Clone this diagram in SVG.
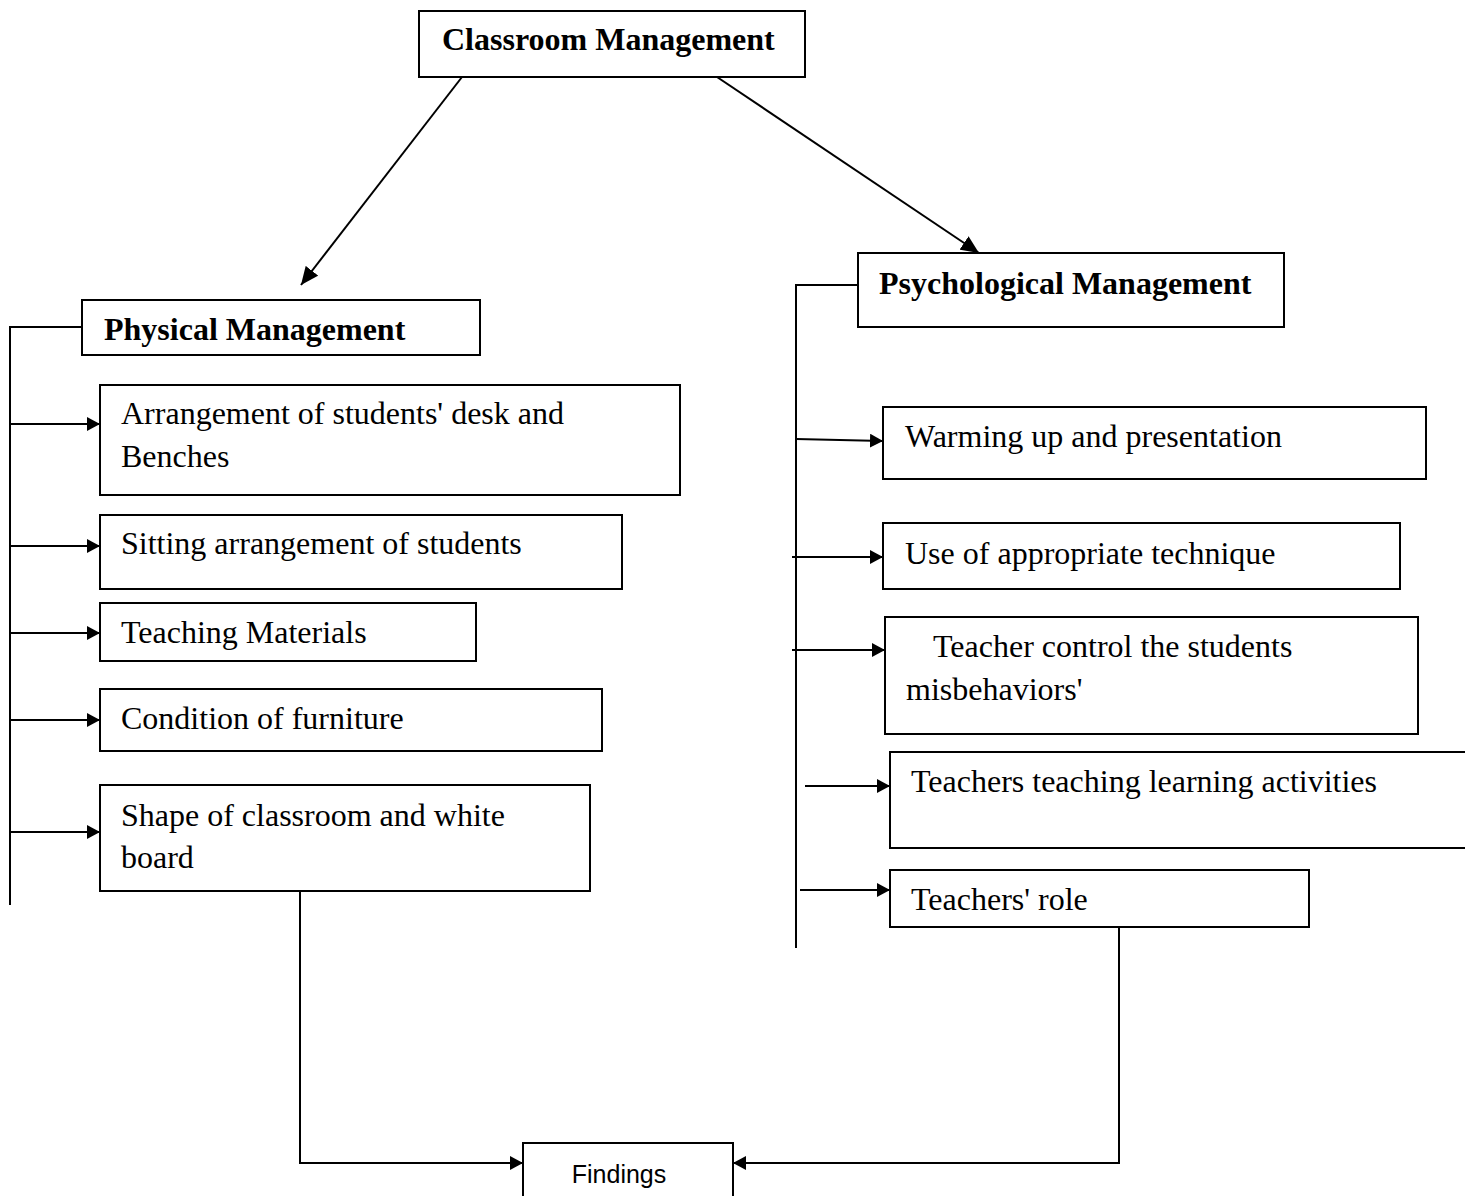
<svg xmlns="http://www.w3.org/2000/svg" width="1465" height="1196" viewBox="0 0 1465 1196">
<style>
.box{fill:#fff;stroke:#000;stroke-width:2}
.ln{fill:none;stroke:#000;stroke-width:2}
.t{font-family:"Liberation Serif","Times New Roman",serif;font-size:32px;fill:#000}
.b{font-weight:bold}
.s{font-family:"Liberation Sans",Arial,sans-serif;font-size:25px;fill:#000}
</style>
<defs>
<marker id="ah" viewBox="0 0 13 14" refX="13" refY="7" markerWidth="13" markerHeight="14" markerUnits="userSpaceOnUse" orient="auto">
<path d="M0,0 L13,7 L0,14 z" fill="#000"/>
</marker>
<marker id="ahb" viewBox="0 0 18 16" refX="18" refY="8" markerWidth="18" markerHeight="16" markerUnits="userSpaceOnUse" orient="auto">
<path d="M0,0 L18,8 L0,16 z" fill="#000"/>
</marker>
</defs>
<rect width="1465" height="1196" fill="#fff"/>
<g id="connectors">
<line class="ln" x1="462" y1="77" x2="301" y2="285" marker-end="url(#ahb)"/>
<line class="ln" x1="717" y1="77" x2="979" y2="253" marker-end="url(#ahb)"/>
<polyline class="ln" points="82,327 10,327 10,905"/>
<line class="ln" x1="10" y1="424" x2="100" y2="424" marker-end="url(#ah)"/>
<line class="ln" x1="10" y1="546" x2="100" y2="546" marker-end="url(#ah)"/>
<line class="ln" x1="10" y1="633" x2="100" y2="633" marker-end="url(#ah)"/>
<line class="ln" x1="10" y1="720" x2="100" y2="720" marker-end="url(#ah)"/>
<line class="ln" x1="10" y1="832" x2="100" y2="832" marker-end="url(#ah)"/>
<polyline class="ln" points="858,285 796,285 796,948"/>
<line class="ln" x1="796" y1="439" x2="883" y2="441" marker-end="url(#ah)"/>
<line class="ln" x1="792" y1="557" x2="883" y2="557" marker-end="url(#ah)"/>
<line class="ln" x1="792" y1="650" x2="885" y2="650" marker-end="url(#ah)"/>
<line class="ln" x1="805" y1="786" x2="890" y2="786" marker-end="url(#ah)"/>
<line class="ln" x1="800" y1="890" x2="890" y2="890" marker-end="url(#ah)"/>
<polyline class="ln" points="300,891 300,1163 523,1163" marker-end="url(#ah)"/>
<polyline class="ln" points="1119,927 1119,1163 733,1163" marker-end="url(#ah)"/>
</g>
<g id="classroom">
<rect class="box" x="419" y="11" width="386" height="66"/>
<text class="t b" x="442" y="50">Classroom Management</text>
</g>
<g id="physical">
<rect class="box" x="82" y="300" width="398" height="55"/>
<text class="t b" x="104" y="340">Physical Management</text>
</g>
<g id="psychological">
<rect class="box" x="858" y="253" width="426" height="74"/>
<text class="t b" x="879" y="294">Psychological Management</text>
</g>
<g id="p1">
<rect class="box" x="100" y="385" width="580" height="110"/>
<text class="t" x="121" y="424">Arrangement of students' desk and</text>
<text class="t" x="121" y="467">Benches</text>
</g>
<g id="p2">
<rect class="box" x="100" y="515" width="522" height="74"/>
<text class="t" x="121" y="554">Sitting arrangement of students</text>
</g>
<g id="p3">
<rect class="box" x="100" y="603" width="376" height="58"/>
<text class="t" x="121" y="643">Teaching Materials</text>
</g>
<g id="p4">
<rect class="box" x="100" y="689" width="502" height="62"/>
<text class="t" x="121" y="729">Condition of furniture</text>
</g>
<g id="p5">
<rect class="box" x="100" y="785" width="490" height="106"/>
<text class="t" x="121" y="826">Shape of classroom and white</text>
<text class="t" x="121" y="868">board</text>
</g>
<g id="s1">
<rect class="box" x="883" y="407" width="543" height="72"/>
<text class="t" x="905" y="447">Warming up and presentation</text>
</g>
<g id="s2">
<rect class="box" x="883" y="523" width="517" height="66"/>
<text class="t" x="905" y="564">Use of appropriate technique</text>
</g>
<g id="s3">
<rect class="box" x="885" y="617" width="533" height="117"/>
<text class="t" x="933" y="657">Teacher control the students</text>
<text class="t" x="906" y="700">misbehaviors'</text>
</g>
<g id="s4">
<path class="ln" d="M1466,752 L890,752 L890,848 L1466,848"/>
<text class="t" x="911" y="792">Teachers teaching learning activities</text>
</g>
<g id="s5">
<rect class="box" x="890" y="870" width="419" height="57"/>
<text class="t" x="911" y="910">Teachers' role</text>
</g>
<g id="findings">
<rect class="box" x="523" y="1143" width="210" height="60"/>
<text class="s" x="619" y="1183" text-anchor="middle">Findings</text>
</g>
</svg>
